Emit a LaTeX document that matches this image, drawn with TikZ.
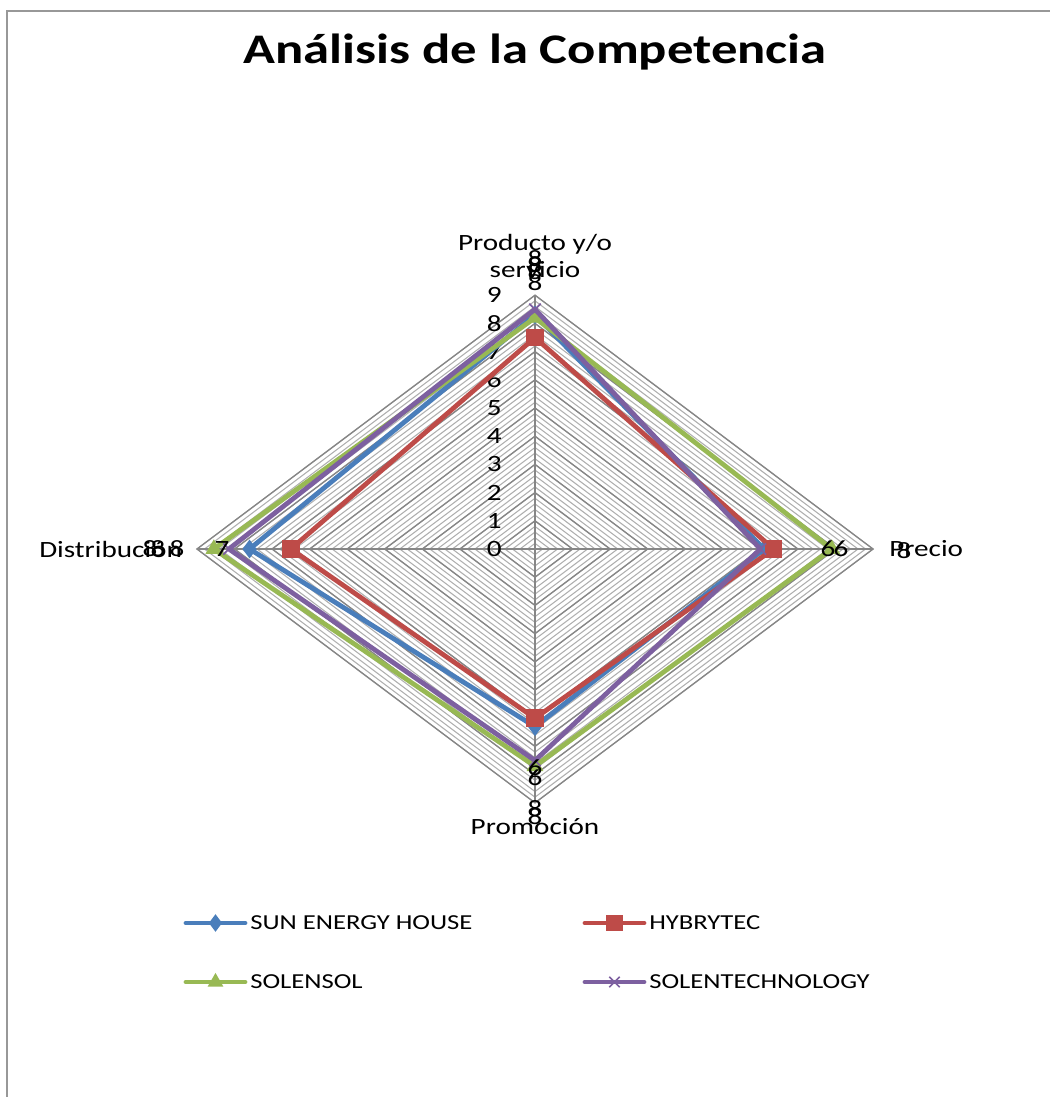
\documentclass[tikz,border=0pt]{standalone}
\usepackage{fontspec}
\setmainfont{Carlito}[FakeStretch=1.25]
\usetikzlibrary{plotmarks}
\definecolor{sunblue}{RGB}{74,126,187}
\definecolor{hybred}{RGB}{190,75,72}
\definecolor{solgreen}{RGB}{152,185,84}
\definecolor{tecpurple}{RGB}{125,96,160}
\definecolor{minorgray}{RGB}{175,175,175}
\definecolor{majorgray}{RGB}{134,134,134}
\newcommand\unitx{37.56}
\newcommand\unity{28.2}
\tikzset{
  ring/.style={draw=minorgray, line width=0.8pt},
  majorring/.style={draw=majorgray, line width=1pt},
  serie/.style={line width=3.6pt, line join=round},
  lbl/.style={font=\fontsize{17.5}{20}\selectfont, inner sep=0pt},
  lgd/.style={font=\fontsize{16}{19}\selectfont, inner sep=0pt, anchor=west},
}

\begin{document}
\begin{tikzpicture}[x=0.75pt, y=-0.75pt]
  \useasboundingbox (0,0) rectangle (1050,1097);
  \coordinate (frame-a) at (7,1097);
  \coordinate (frame-b) at (7,11);
  \coordinate (frame-c) at (1050,11);
  \draw[majorgray!85, line width=1.5pt] (frame-a) -- (frame-b) -- (frame-c);

  \node[font=\fontsize{31.6}{36}\selectfont\bfseries] (title) at (535,52)
    {Análisis de la Competencia};

  \foreach \i in {1,...,45} {
    \pgfmathsetmacro\r{\i/5}
    \draw[ring] (535,{549-\r*\unity}) -- ({535+\r*\unitx},549)
      -- (535,{549+\r*\unity}) -- ({535-\r*\unitx},549) -- cycle;
  }
  \foreach \r in {1,...,9}
    \draw[majorring] (535,{549-\r*\unity}) -- ({535+\r*\unitx},549)
      -- (535,{549+\r*\unity}) -- ({535-\r*\unitx},549) -- cycle;

  \coordinate (top) at (535,{549-9*\unity});
  \coordinate (bot) at (535,{549+9*\unity});
  \coordinate (lft) at ({535-9*\unitx},549);
  \coordinate (rgt) at ({535+9*\unitx},549);
  \draw[majorgray, line width=1.5pt] (top) -- (bot);
  \draw[majorgray, line width=1.5pt] (lft) -- (rgt);

  \foreach \v in {0,...,9}
    \node[lbl, anchor=east] (tick\v) at (502,{549-\v*\unity}) {\v};

  \foreach \name/\col/\mk/\p/\q/\s/\t in {
      sun/sunblue/diamond*/8.3/6.1/6.3/7.6,
      hyb/hybred/square*/7.5/6.35/6.0/6.5,
      sol/solgreen/triangle*/8.2/7.9/7.7/8.55,
      tec/tecpurple/x/8.5/6.0/7.5/8.15} {
    \coordinate (\name-p) at (535,{549-\p*\unity});
    \coordinate (\name-r) at ({535+\q*\unitx},549);
    \coordinate (\name-b) at (535,{549+\s*\unity});
    \coordinate (\name-l) at ({535-\t*\unitx},549);
    \draw[serie, draw=\col] (\name-p) -- (\name-r) -- (\name-b) -- (\name-l)
      -- cycle;
    \draw plot[only marks, mark=\mk, mark size=6pt,
      mark options={draw=\col, fill=\col, line width=1.3pt}]
      coordinates {(\name-p) (\name-r) (\name-b) (\name-l)};
  }

  \node[lbl, align=center] (prod) at (535,256)
    {Producto y/o\\servicio};
  \node[lbl, anchor=west] (precio) at (889,549) {Precio};
  \node[lbl, anchor=west] (dist) at (39,549) {Distribución};
  \node[lbl] (promo) at (535,827) {Promoción};

  \node[lbl] (dp1) at (535,259) {8};
  \node[lbl] (dp2) at (535,265) {8};
  \node[lbl] (dp3) at (535,272) {8};
  \node[lbl] (dp4) at (535,283) {8};
  \node[lbl] (dr1) at (828,549) {6};
  \node[lbl] (dr2) at (841,549) {6};
  \node[lbl] (dr3) at (904,551) {8};
  \node[lbl] (dl1) at (150,549) {8};
  \node[lbl] (dl2) at (158,549) {8};
  \node[lbl] (dl3) at (177,549) {8};
  \node[lbl] (dl4) at (222,549) {7};
  \node[lbl] (db1) at (535,768) {6};
  \node[lbl] (db2) at (535,778) {6};
  \node[lbl] (db3) at (535,809) {8};
  \node[lbl] (db4) at (535,817) {8};

  \foreach \name/\col/\mk/\txt/\x/\y in {
      lsun/sunblue/diamond*/SUN ENERGY HOUSE/186/923,
      lhyb/hybred/square*/HYBRYTEC/585/923,
      lsol/solgreen/triangle*/SOLENSOL/186/982,
      ltec/tecpurple/x/SOLENTECHNOLOGY/585/982} {
    \coordinate (\name-a) at (\x,\y);
    \coordinate (\name-z) at (\x+59,\y);
    \coordinate (\name-m) at (\x+29.5,\y);
    \draw[serie, draw=\col, line cap=round] (\name-a) -- (\name-z);
    \draw plot[only marks, mark=\mk, mark size=5.5pt,
      mark options={draw=\col, fill=\col, line width=1.3pt}]
      coordinates {(\name-m)};
    \node[lgd] (\name-t) at (\x+64,\y) {\txt};
  }
\end{tikzpicture}
\end{document}
